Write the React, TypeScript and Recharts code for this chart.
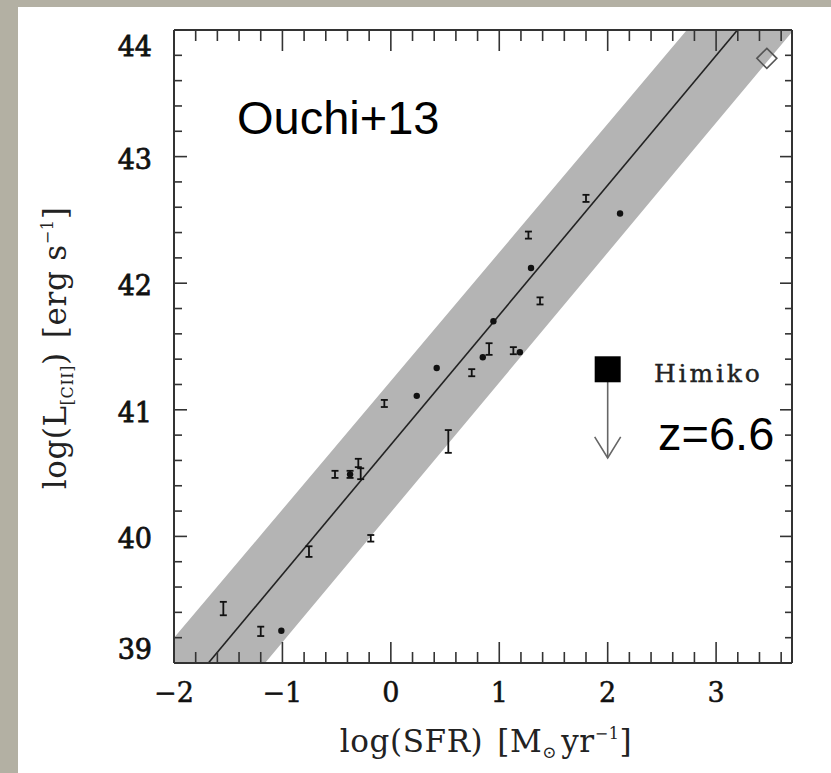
import { ComposedChart, XAxis, YAxis, Area, Line, Scatter, ErrorBar, ReferenceLine, Customized } from 'recharts'

// axis ranges and labelled ticks
const X_DOMAIN: [number, number] = [-2, 3.7]
const Y_DOMAIN: [number, number] = [39, 44]
const X_LABELS = [-2, -1, 0, 1, 2, 3]
const Y_LABELS = [39, 40, 41, 42, 43, 44]

const minorTicks = (from: number, to: number) => {
  const out: number[] = []
  for (let i = 0; from + i * 0.2 <= to + 1e-9; i++) out.push(Math.round((from + i * 0.2) * 10) / 10)
  return out
}
const X_TICKS = minorTicks(-2, 3.6)
const Y_TICKS = minorTicks(39, 44)

// filled circles
const dotX = [-1.01, -0.376, 0.239, 0.423, 0.848, 0.946, 1.19, 1.293, 2.114]
const dotY = [39.255, 40.49, 41.11, 41.33, 41.415, 41.7, 41.455, 42.12, 42.55]

// points drawn only as error bars
const barX = [-1.545, -1.2, -0.755, -0.515, -0.376, -0.3, -0.278, -0.185, -0.06, 0.53, 0.746, 0.906, 1.13, 1.269, 1.376, 1.8]
const barY = [39.43, 39.25, 39.88, 40.49, 40.49, 40.58, 40.495, 39.985, 41.05, 40.75, 41.293, 41.48, 41.467, 42.38, 41.86, 42.67]
const barErr = [0.053, 0.037, 0.042, 0.028, 0.028, 0.033, 0.043, 0.026, 0.028, 0.09, 0.028, 0.046, 0.028, 0.028, 0.028, 0.028]

// local relation and its scatter band
const fitX = [-1.683, 3.197]
const fitY = [39, 44]
const bandX = [-2, -1.16, 2.73, 3.7]
const bandLo = [39, 39, 42.99, 43.985]
const bandHi = [39.2, 40.05, 44, 44]

// Himiko upper limit, and the open diamond
const himikoX = [2.0]
const himikoY = [41.32]
const himikoLimit = 40.62
const diamondX = [3.468]
const diamondY = [43.776]

const dots = dotX.map((x, i) => ({ x, y: dotY[i] }))
const bars = barX.map((x, i) => ({ x, y: barY[i], err: barErr[i] }))
const fit = fitX.map((x, i) => ({ x, y: fitY[i] }))
const band = bandX.map((x, i) => ({ x, range: [bandLo[i], bandHi[i]] }))
const himiko = himikoX.map((x, i) => ({ x, y: himikoY[i] }))
const diamond = diamondX.map((x, i) => ({ x, y: diamondY[i] }))

const W = 831
const H = 773
const MARGIN = { top: 29, right: 38, bottom: 0, left: 0 }
const AXIS = '#333'
const SERIF = '"DejaVu Serif", serif'
const SANS = '"Liberation Sans", Arial, sans-serif'
const isMajor = (v: number) => Math.abs(v - Math.round(v)) < 1e-6
const fmt = (v: number) => (v < 0 ? '\u2212' + Math.abs(v) : String(v))

function BottomTick({ x, y, payload }: any) {
  const v = payload.value
  const major = isMajor(v)
  return (
    <g>
      <line x1={x} y1={y} x2={x} y2={y - (major ? 21 : 11)} stroke={AXIS} strokeWidth={1.6} />
      {major && X_LABELS.includes(v) && (
        <text x={x} y={y + 39} textAnchor="middle" fontFamily={SERIF} fontSize={27} fill="#111" stroke="#111" strokeWidth={0.5}>
          {fmt(v)}
        </text>
      )}
    </g>
  )
}

function TopTick({ x, y, payload }: any) {
  const major = isMajor(payload.value)
  return <line x1={x} y1={y} x2={x} y2={y + (major ? 21 : 11)} stroke={AXIS} strokeWidth={1.6} />
}

function LeftTick({ x, y, payload }: any) {
  const v = payload.value
  const major = isMajor(v)
  // the end labels sit inside the frame, as in the original plot
  const dy = v === 44 ? 26 : v === 39 ? -4 : 12
  return (
    <g>
      <line x1={x} y1={y} x2={x + (major ? 13 : 8)} y2={y} stroke={AXIS} strokeWidth={1.6} />
      {major && Y_LABELS.includes(v) && (
        <text x={x - 22} y={y + dy} textAnchor="end" fontFamily={SERIF} fontSize={27} fill="#111" stroke="#111" strokeWidth={0.8}>
          {fmt(v)}
        </text>
      )}
    </g>
  )
}

function RightTick({ x, y, payload }: any) {
  const major = isMajor(payload.value)
  return <line x1={x} y1={y} x2={x - (major ? 12 : 7)} y2={y} stroke={AXIS} strokeWidth={1.6} />
}

const Dot = ({ cx, cy }: any) => <circle cx={cx} cy={cy} r={3.2} fill="#111" />
const Nothing = () => <g />
const Square = ({ cx, cy }: any) => <rect x={cx - 13} y={cy - 13} width={26} height={26} fill="#000" />
const Diamond = ({ cx, cy }: any) => (
  <polygon points={`${cx},${cy - 10} ${cx + 10},${cy} ${cx},${cy + 10} ${cx - 10},${cy}`} fill="none" stroke="#555" strokeWidth={1.6} />
)

function LimitArrow({ x1, y1, x2, y2 }: any) {
  return (
    <g stroke="#666" strokeWidth={1.6} fill="none">
      <line x1={x1} y1={y1} x2={x2} y2={y2} />
      <polyline points={`${x2 - 13},${y2 - 21} ${x2},${y2} ${x2 + 13},${y2 - 21}`} />
    </g>
  )
}

function Annotations() {
  return (
    <g>
      <text x={237} y={134} fontFamily={SANS} fontSize={47} fill="#000">Ouchi+13</text>
      <text x={658} y={450} fontFamily={SANS} fontSize={47} fill="#000">z=6.6</text>
      <text x={654} y={382} fontFamily={SERIF} fontSize={25} letterSpacing={2.8} fill="#222" stroke="#222" strokeWidth={0.4}>Himiko</text>
      <text x={486} y={752} textAnchor="middle" fontFamily={SERIF} fontSize={31} letterSpacing={0.6} fill="#222">
        log(SFR)<tspan dx={14}>[M</tspan>
        <tspan fontSize={17} dy={6}>⊙</tspan>
        <tspan dy={-6} dx={4}>yr</tspan>
        <tspan fontSize={16} dy={-13}>−1</tspan>
        <tspan dy={13}>]</tspan>
      </text>
      <text transform="translate(66,348) rotate(-90)" textAnchor="middle" fontFamily={SERIF} fontSize={31} letterSpacing={0.6} fill="#222">
        log(L<tspan fontSize={16} dy={7}>[CII]</tspan>
        <tspan dy={-7}>)</tspan>
        <tspan dx={14}>[erg</tspan>
        <tspan dx={10}>s</tspan>
        <tspan fontSize={16} dy={-13}>−1</tspan>
        <tspan dy={13}>]</tspan>
      </text>
    </g>
  )
}

export default function App() {
  const common = { type: 'number' as const, allowDataOverflow: true, interval: 0 as const, tickSize: 0, tickMargin: 0, tickLine: false }
  return (
    <div style={{ position: 'absolute', left: 0, top: 0, width: W, height: H, background: '#b3b0a3', overflow: 'hidden' }}>
      <div style={{ position: 'absolute', left: 18, top: 7, right: 0, bottom: 0, background: '#fff' }} />
      {/* band layer, kept under the frame so the ticks stay visible */}
      <div style={{ position: 'absolute', left: 0, top: 0 }}>
        <ComposedChart width={W} height={H} margin={MARGIN}>
          <XAxis {...common} dataKey="x" domain={X_DOMAIN} ticks={X_TICKS} height={110} tick={false} axisLine={false} />
          <XAxis {...common} xAxisId="top" orientation="top" dataKey="x" domain={X_DOMAIN} height={1} tick={false} axisLine={false} />
          <YAxis {...common} domain={Y_DOMAIN} ticks={Y_TICKS} width={174} tick={false} axisLine={false} />
          <YAxis {...common} yAxisId="right" orientation="right" domain={Y_DOMAIN} width={1} tick={false} axisLine={false} />
          <Area data={band} dataKey="range" type="linear" fill="#b4b4b4" fillOpacity={1} stroke="none" isAnimationActive={false} />
        </ComposedChart>
      </div>
      {/* frame, relation, points and labels */}
      <div style={{ position: 'absolute', left: 0, top: 0 }}>
        <ComposedChart width={W} height={H} margin={MARGIN}>
          <XAxis {...common} dataKey="x" domain={X_DOMAIN} ticks={X_TICKS} height={110} tick={<BottomTick />} axisLine={{ stroke: AXIS, strokeWidth: 2 }} />
          <XAxis {...common} xAxisId="top" orientation="top" dataKey="x" domain={X_DOMAIN} ticks={X_TICKS} height={1} tick={<TopTick />} axisLine={{ stroke: AXIS, strokeWidth: 2 }} />
          <YAxis {...common} domain={Y_DOMAIN} ticks={Y_TICKS} width={174} tick={<LeftTick />} axisLine={{ stroke: AXIS, strokeWidth: 2 }} />
          <YAxis {...common} yAxisId="right" orientation="right" domain={Y_DOMAIN} ticks={Y_TICKS} width={1} tick={<RightTick />} axisLine={{ stroke: AXIS, strokeWidth: 2 }} />
          <Line data={fit} dataKey="y" type="linear" stroke="#222" strokeWidth={1.6} dot={false} isAnimationActive={false} />
          <ReferenceLine
            segment={[{ x: himikoX[0], y: himikoY[0] }, { x: himikoX[0], y: himikoLimit }]}
            shape={<LimitArrow />}
          />
          <Scatter data={bars} dataKey="y" shape={<Nothing />} isAnimationActive={false}>
            <ErrorBar dataKey="err" direction="y" width={3.5} stroke="#111" strokeWidth={1.8} isAnimationActive={false} />
          </Scatter>
          <Scatter data={dots} dataKey="y" shape={<Dot />} isAnimationActive={false} />
          <Scatter data={himiko} dataKey="y" shape={<Square />} isAnimationActive={false} />
          <Scatter data={diamond} dataKey="y" shape={<Diamond />} isAnimationActive={false} />
          <Customized component={Annotations} />
        </ComposedChart>
      </div>
    </div>
  )
}
